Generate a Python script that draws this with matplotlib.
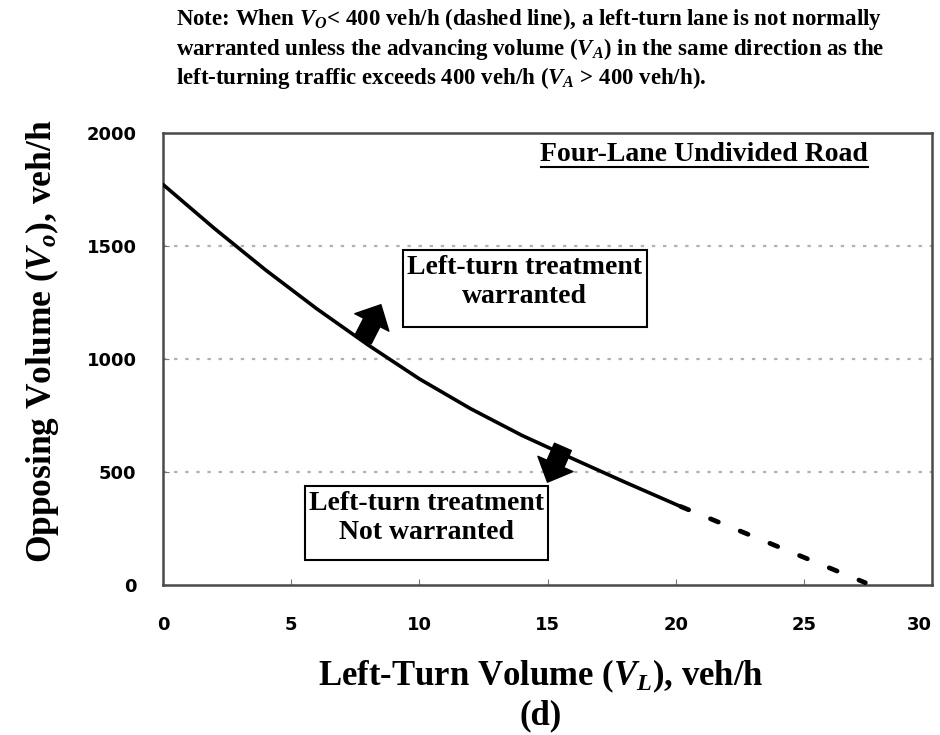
"""Left-turn treatment warrant chart, four-lane undivided road (panel d)
"""
import matplotlib
matplotlib.use('Agg')
import matplotlib.pyplot as plt
from matplotlib.patches import Rectangle

plt.rcParams['mathtext.fontset'] = 'custom'
plt.rcParams['mathtext.rm'] = 'Liberation Serif:bold'
plt.rcParams['mathtext.it'] = 'Liberation Serif:italic:bold'
plt.rcParams['mathtext.bf'] = 'Liberation Serif:bold'

SERIF = 'Liberation Serif'

# Warrant curve (solid part)
left_turn = [0, 2, 4, 6, 8, 10, 12, 14, 16, 18, 20.2]
opposing = [1772, 1578, 1394, 1222, 1062, 912, 780, 662, 558, 456, 347]

# Dashed part (V_O < 400 veh/h)
left_turn_dashed = [20.2, 27.4]
opposing_dashed = [347, 10]

x_ticks = [0, 5, 10, 15, 20, 25, 30]
y_ticks = [0, 500, 1000, 1500, 2000]
grid_levels = [500, 1000, 1500]

note_lines = [
    r'Note: When $V_O$< 400 veh/h (dashed line), a left-turn lane is not normally',
    r'warranted unless the advancing volume ($V_A$) in the same direction as the',
    r'left-turning traffic exceeds 400 veh/h ($V_A$ > 400 veh/h).',
]

fig = plt.figure(figsize=(9.4, 7.35), dpi=100)
ax = fig.add_axes([0.1734, 0.2041, 0.8181, 0.6150])

for level in grid_levels:
    ax.axhline(level, color='#b0b0b0', lw=1.6, ls=(0, (1.5, 3.5)), zorder=1)

ax.plot(left_turn, opposing, color='black', lw=2.6, solid_capstyle='round', zorder=3)
ax.plot(left_turn_dashed, opposing_dashed, color='black', lw=3.4,
        ls=(0, (1.8, 5.0)), dash_capstyle='round', zorder=3)

# Direction arrows
arrow_style = 'simple,head_length=0.65,head_width=1.25,tail_width=0.6'
ax.annotate('', xy=(8.5, 1240), xytext=(7.8, 1085),
            arrowprops=dict(arrowstyle=arrow_style, color='black',
                            shrinkA=0, shrinkB=0, mutation_scale=22), zorder=4)
ax.annotate('', xy=(15.0, 455), xytext=(15.6, 611),
            arrowprops=dict(arrowstyle=arrow_style, color='black',
                            shrinkA=0, shrinkB=0, mutation_scale=22), zorder=4)

# Region boxes
ax.add_patch(Rectangle((9.36, 1143), 9.51, 337, facecolor='white',
                       edgecolor='black', lw=1.5, zorder=5))
ax.add_patch(Rectangle((5.54, 111), 9.46, 328, facecolor='white',
                       edgecolor='black', lw=1.5, zorder=5))
ax.text(14.1, 1340, 'Left-turn treatment\nwarranted', ha='center', va='center',
        family=SERIF, weight='bold', fontsize=20, linespacing=1.2, zorder=6)
ax.text(10.27, 297, 'Left-turn treatment\nNot warranted', ha='center', va='center',
        family=SERIF, weight='bold', fontsize=20, linespacing=1.2, zorder=6)

ax.text(0.704, 0.953, 'Four-Lane Undivided Road', transform=ax.transAxes,
        ha='center', va='center', family=SERIF, weight='bold', fontsize=20)
ax.plot([0.4915, 0.9168], [0.925, 0.925], transform=ax.transAxes,
        color='black', lw=1.5, clip_on=False)

ax.set_xlim(0, 30)
ax.set_ylim(0, 2000)
ax.set_xticks(x_ticks)
ax.set_yticks(y_ticks)
ax.tick_params(direction='in', length=4, color='#777777')
ax.tick_params(axis='x', pad=22)
ax.tick_params(axis='y', pad=19)
for lab in ax.get_xticklabels() + ax.get_yticklabels():
    lab.set_fontfamily('DejaVu Sans')
    lab.set_fontweight('bold')
    lab.set_fontsize(13)
ax.get_xticklabels()[-1].set_horizontalalignment('right')
for spine in ax.spines.values():
    spine.set_color('#4a4a4a')
    spine.set_linewidth(1.8)

fig.text(541 / 940, 1 - 676 / 735, r'Left-Turn Volume ($V_L$), veh/h',
         ha='center', va='center', family=SERIF, weight='bold', fontsize=25)
fig.text(541 / 940, 1 - 716 / 735, '(d)',
         ha='center', va='center', family=SERIF, weight='bold', fontsize=25)
fig.text(42 / 940, 1 - 341 / 735, r'Opposing Volume ($V_o$), veh/h', rotation=90,
         ha='center', va='center', family=SERIF, weight='bold', fontsize=25.5)

for i, line in enumerate(note_lines):
    fig.text(176 / 940, 1 - (19 + 29.5 * i) / 735, line, ha='left', va='center',
             family=SERIF, weight='bold', fontsize=16.5)

fig.savefig('out.png', dpi=100)
